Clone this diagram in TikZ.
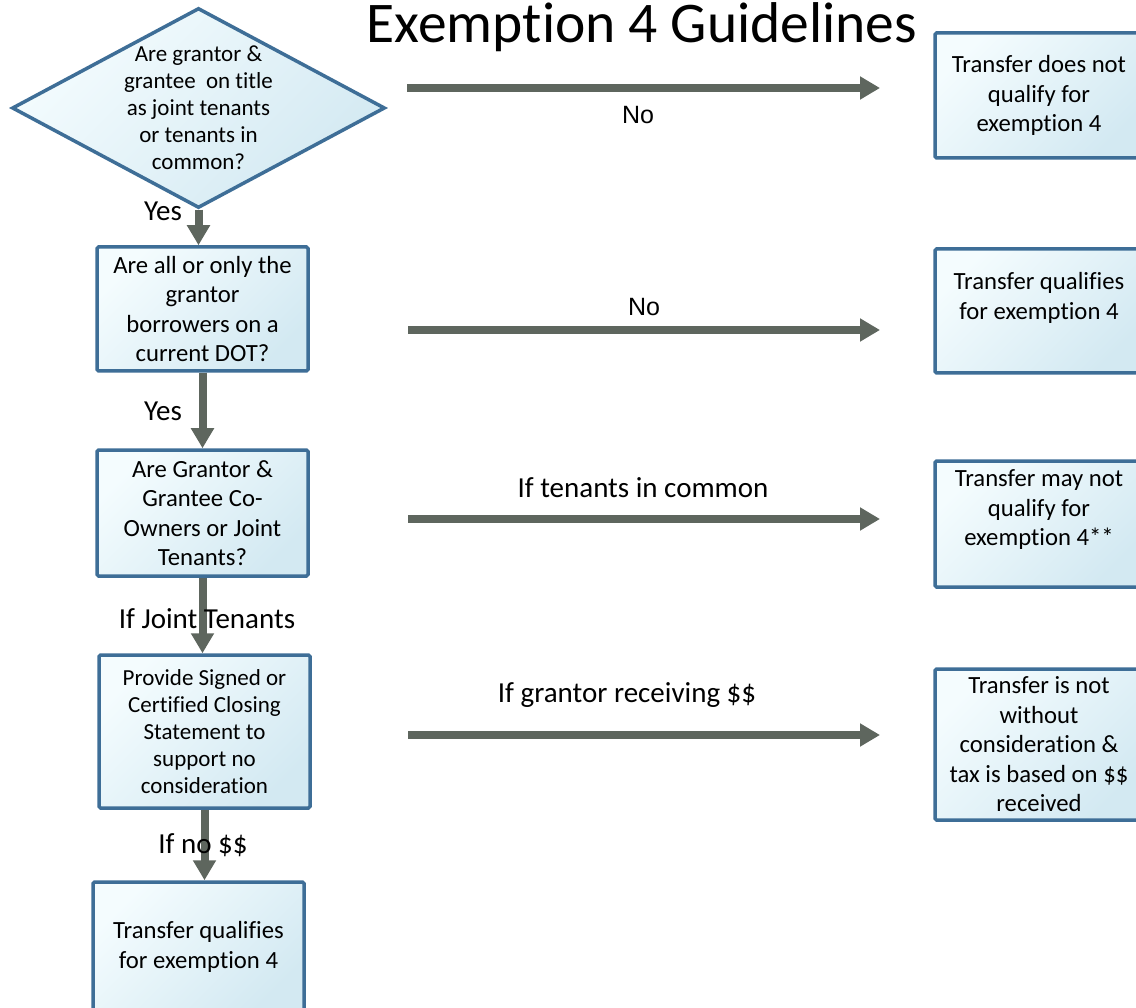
\documentclass[tikz,border=0pt]{standalone}
\usepackage{fontspec}
\setmainfont{Carlito}[Ligatures=NoCommon]
\newfontfamily\arialf{Liberation Sans}
\usetikzlibrary{shapes.geometric,arrows.meta}
\definecolor{bordc}{HTML}{3E6E97}
\definecolor{arrc}{HTML}{5E665E}
\definecolor{fillA}{HTML}{F4FCFE}
\definecolor{fillB}{HTML}{D3E9F2}
\tikzset{
  boxshape/.style={draw=bordc, line width=3.5pt, rounded corners=1.5pt,
    top color=fillA, bottom color=fillB, shading angle=45,
    inner sep=0pt, align=center, text=black},
  lbox/.style={boxshape, minimum width=211pt},
  rbox/.style={boxshape, minimum width=208pt},
  dia/.style={diamond, draw=bordc, line width=3.5pt,
    top color=fillA, bottom color=fillB, shading angle=45,
    minimum width=373pt, minimum height=200pt, inner sep=0pt},
  big/.style={font=\fontsize{24.7}{29.5}\selectfont},
  small/.style={font=\fontsize{23}{27}\selectfont},
  txt/.style={align=center, inner sep=0pt, text=black},
  flow/.style={draw=arrc, line width=8pt, -{Triangle[length=20pt,width=22pt]}},
  lbl/.style={inner sep=0pt, text=black, font=\fontsize{29}{34}\selectfont},
  nolbl/.style={inner sep=0pt, text=black, font=\arialf\fontsize{25}{30}\selectfont},
  ttl/.style={inner sep=0pt, text=black, font=\fontsize{57.5}{66}\selectfont}
}
\begin{document}
\begin{tikzpicture}[x=1pt,y=-1pt]
\useasboundingbox (0,0) rectangle (1136,1008);
\fill[white] (0,0) rectangle (1136,1008);

\node[ttl] (title) at (642,27) {Exemption 4 Guidelines};

% left column
\node[dia] (q1) at (198.5,108) {};
\node[txt,small] (q1t) at (q1.center) {Are grantor \&\\grantee\ \ on title\\as joint tenants\\or tenants in\\common?};
\node[lbox,big,minimum height=124pt] (b2) at (202.5,309) {Are all or only the\\grantor\\borrowers on a\\current DOT?};
\node[lbox,big,minimum height=126pt] (b3) at (202.5,513) {Are Grantor \&\\Grantee Co-\\Owners or Joint\\Tenants?};
\node[lbox,small,minimum height=153pt] (b4) at (204.5,731.5) {Provide Signed or\\Certified Closing\\Statement to\\support no\\consideration};
\node[lbox,big,minimum height=130pt] (b5) at (198.5,947) {Transfer qualifies\\for exemption 4};

% right column
\node[rbox,big,minimum height=125pt] (r1) at (1039,95.5) {Transfer does not\\qualify for\\exemption 4};
\node[rbox,minimum height=124pt] (r2) at (1039,311) {};
\node[txt,big] (r2t) at ([yshift=13pt]r2.center) {Transfer qualifies\\for exemption 4};
\node[rbox,minimum height=126pt] (r3) at (1039,524) {};
\node[txt,big] (r3t) at ([yshift=14pt]r3.center) {Transfer may not\\qualify for\\exemption 4**};
\node[rbox,big,minimum height=151pt] (r4) at (1039,744.5) {Transfer is not\\without\\consideration \&\\tax is based on \$\$\\received};

% vertical connectors
\draw[flow] (q1.south) -- (q1.south |- b2.north);
\draw[flow] (b2.south) -- (b3.north);
\draw[flow] (b3.south) -- (b3.south |- b4.north);
\draw[flow] (b4.south) -- (b4.south |- b5.north);

% horizontal connectors (free ends)
\coordinate (h1s) at (407,88);  \coordinate (h1e) at (880,88);
\coordinate (h2s) at (408,330); \coordinate (h2e) at (880,330);
\coordinate (h3s) at (408,519); \coordinate (h3e) at (880,519);
\coordinate (h4s) at (408,735); \coordinate (h4e) at (880,735);
\draw[flow] (h1s) -- (h1e);
\draw[flow] (h2s) -- (h2e);
\draw[flow] (h3s) -- (h3e);
\draw[flow] (h4s) -- (h4e);

% labels
\node[nolbl] (l1) at (638,115) {No};
\node[lbl] (l2) at (163,211) {Yes};
\node[nolbl] (l3) at (644,307) {No};
\node[lbl] (l4) at (163,411) {Yes};
\node[lbl] (l5) at (643,488) {If tenants in common};
\node[lbl] (l6) at (207,619) {If Joint Tenants};
\node[lbl] (l7) at (627,695) {If grantor receiving \$\$};
\node[lbl] (l8) at (203,845) {If no \$\$};
\end{tikzpicture}
\end{document}
